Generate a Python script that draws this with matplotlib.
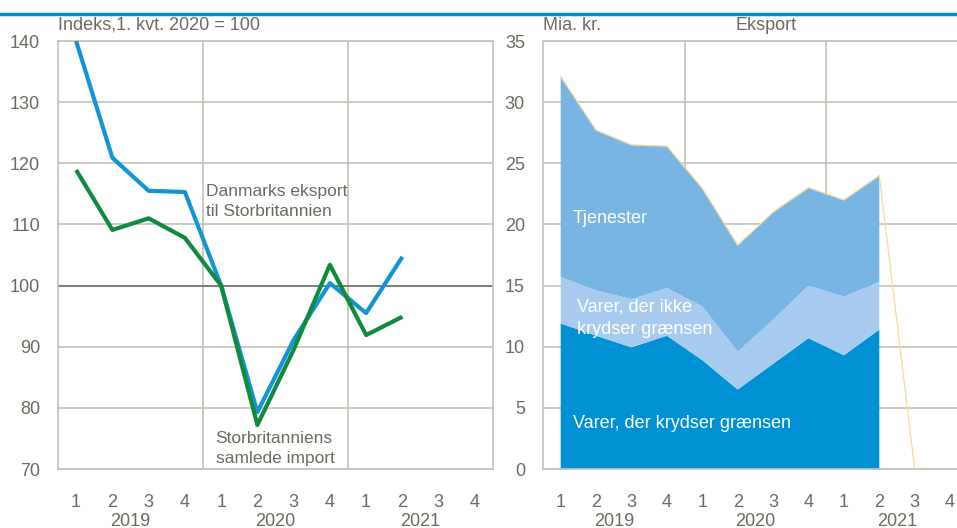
import matplotlib
matplotlib.use("Agg")
import matplotlib.pyplot as plt
from matplotlib.transforms import blended_transform_factory as btf

# ---- data ----
quarters = ["1", "2", "3", "4"] * 3
years = ["2019", "2020", "2021"]

dk_export = [140.0, 120.9, 115.5, 115.3, 100.0, 79.3, 91.1, 100.4, 95.5, 104.7]
uk_import = [118.9, 109.1, 111.0, 107.8, 100.0, 77.2, 89.5, 103.4, 91.9, 94.9]

goods_cross = [11.9, 10.9, 9.95, 10.9, 8.9, 6.5, 8.6, 10.7, 9.3, 11.4]
goods_nocross = [3.8, 3.7, 3.95, 3.9, 4.4, 3.1, 3.6, 4.3, 4.8, 3.9]
services = [16.4, 13.1, 12.6, 11.6, 9.65, 8.7, 8.8, 8.0, 7.9, 8.7]
total_line = [32.1, 27.7, 26.5, 26.4, 22.95, 18.3, 21.0, 23.0, 22.0, 24.0, 0.0]

# ---- style ----
plt.rcParams["font.family"] = ["Liberation Sans", "DejaVu Sans"]
TXT = "#6b6b60"
GRID = "#c4c2b8"
FS = 13

fig = plt.figure(figsize=(9.57, 5.28), dpi=100)
W, H = 957, 528

def fa(x0, y0, x1, y1):
    return [x0 / W, 1 - y1 / H, (x1 - x0) / W, (y1 - y0) / H]

# top blue rule
fig.add_artist(plt.Line2D([0, 1], [1 - 14 / H, 1 - 14 / H], color="#0090d0", lw=2.5))

def style(ax):
    for s in ax.spines.values():
        s.set_color(GRID)
        s.set_linewidth(1.2)
    ax.tick_params(length=0, colors=TXT, labelsize=FS)
    ax.set_xticks(range(12))
    ax.set_xticklabels(quarters)
    ax.tick_params(axis="x", pad=18)
    ax.tick_params(axis="y", pad=13)
    ax.set_xlim(-0.5, 11.5)
    ax.set_axisbelow(True)
    for v in (3.5, 7.5):
        ax.axvline(v, color=GRID, lw=1.2, zorder=0)
    tr = btf(ax.transData, ax.transAxes)
    for i, yr in enumerate(years):
        ax.text(4 * i + 1.5, -0.122, yr, transform=tr, ha="center", va="center",
                color=TXT, fontsize=FS)

# ---- left chart ----
ax1 = fig.add_axes(fa(58, 41, 493, 469))
style(ax1)
ax1.set_ylim(70, 140)
ax1.set_yticks(range(70, 141, 10))
ax1.grid(axis="y", color=GRID, lw=1.2)
ax1.axhline(100, color="#77776f", lw=1.3, zorder=1)
x = range(len(dk_export))
ax1.plot(x, dk_export, color="#1195d6", lw=3, zorder=3, solid_capstyle="butt")
ax1.plot(x, uk_import, color="#0f8a3e", lw=3, zorder=3, solid_capstyle="butt")
ax1.text(3.58, 113.75, "Danmarks eksport\ntil Storbritannien", color=TXT, fontsize=12.5,
         va="center", ha="left", linespacing=1.4)
ax1.text(3.85, 73.3, "Storbritanniens\nsamlede import", color=TXT, fontsize=12.5,
         va="center", ha="left", linespacing=1.4)
ax1.text(0, 1.037, "Indeks,1. kvt. 2020 = 100", transform=ax1.transAxes, color=TXT,
         fontsize=FS, ha="left", va="center")

# ---- right chart ----
slot = 35.4
ax2 = fig.add_axes(fa(543, 41, 543 + 12 * slot, 469))
style(ax2)
ax2.set_ylim(0, 35)
ax2.set_yticks(range(0, 36, 5))
ax2.grid(axis="y", color=GRID, lw=1.2)
xr = list(range(len(goods_cross)))
ax2.stackplot(xr, goods_cross, goods_nocross, services,
              colors=["#0090d4", "#a7cbee", "#79b5e2"], lw=0, zorder=2)
ax2.plot(range(len(total_line)), total_line, color="#f5dc98", lw=0.9, zorder=3)
ax2.text(0.35, 20.5, "Tjenester", color="white", fontsize=FS, va="center", ha="left")
ax2.text(0.45, 12.35, "Varer, der ikke\nkrydser grænsen", color="white", fontsize=FS,
         va="center", ha="left", linespacing=1.4)
ax2.text(0.35, 3.7, "Varer, der krydser grænsen", color="white", fontsize=FS,
         va="center", ha="left")
ax2.text(0, 1.037, "Mia. kr.", transform=ax2.transAxes, color=TXT, fontsize=FS,
         ha="left", va="center")
ax2.text(5.8, 1.037, "Eksport", transform=btf(ax2.transData, ax2.transAxes), color=TXT,
         fontsize=FS, ha="center", va="center")

fig.savefig("out.png", dpi=100)
